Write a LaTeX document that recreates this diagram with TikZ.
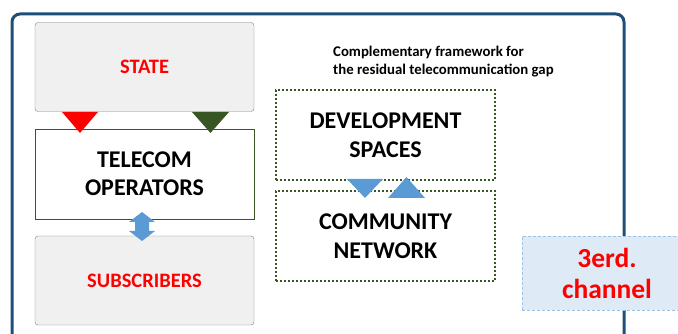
\documentclass[tikz,border=0pt]{standalone}
\usepackage{fontspec}
\setmainfont{Carlito}
\usetikzlibrary{positioning}

\definecolor{framecol}{HTML}{1F4E79}
\definecolor{boxgray}{HTML}{F0F0F0}
\definecolor{edgegray}{HTML}{7F7F7F}
\definecolor{darkgreen}{HTML}{375623}
\definecolor{arrowblue}{HTML}{5B9BD5}
\definecolor{chanfill}{HTML}{DEEBF7}
\definecolor{chanedge}{HTML}{9DC3E6}

\tikzset{
    graybox/.style={draw=edgegray, fill=boxgray, rounded corners=3pt, minimum width=219pt, minimum height=89pt, font=\fontsize{20.5}{24}\selectfont\bfseries, text=red},
    opbox/.style={draw=darkgreen, fill=white, minimum width=219pt, minimum height=90pt, align=center, font=\fontsize{24}{28}\selectfont\bfseries},
    dotbox/.style={draw=darkgreen, dash pattern=on 2pt off 2pt, line width=2pt, minimum width=219pt, minimum height=90pt, align=center, font=\fontsize{24}{29}\selectfont\bfseries},
}

\begin{document}
\begin{tikzpicture}[x=1pt, y=-1pt]
        \useasboundingbox (0,0) rectangle (678,334);
        \clip (0,0) rectangle (678,334);

        % outer frame
        \draw[framecol, line width=3pt, rounded corners=8pt] (12,345) -- (12,14) -- (624,14) -- (624,345);

        \node[graybox] (state) at (144.5,67) {STATE};
        \node[opbox] (operators) at (144.5,174) {TELECOM\\OPERATORS};
        \node[graybox] (subscribers) at (144.5,280.5) {SUBSCRIBERS};

        \node[dotbox] (devspaces) at (385.5,135) {DEVELOPMENT\\SPACES};
        \node[dotbox] (community) at (385.5,236) {COMMUNITY\\NETWORK};

        \node[align=left, anchor=north west, inner sep=0pt, font=\fontsize{14.8}{18}\selectfont\bfseries] (note) at (333,46)
            {Complementary framework for\\the residual telecommunication gap};

        \node[draw=chanedge, densely dashed, fill=chanfill, minimum width=170pt, minimum height=74pt, align=center, text=red, font=\fontsize{27.5}{31}\selectfont\bfseries] (channel) at (607,273) {3erd.\\channel};

        % triangles
        \fill[red] (62,112) -- (98,112) -- (80,133) -- cycle;
        \fill[darkgreen] (192,112) -- (229,112) -- (210.5,133) -- cycle;
        \fill[arrowblue] (347,179) -- (383,179) -- (365,198) -- cycle;
        \fill[arrowblue] (388,198) -- (425,198) -- (406.5,177) -- cycle;

        % double arrow
        \fill[arrowblue] (142,212) -- (155,222) -- (149,222) -- (149,231) -- (155,231) -- (142,241)
            -- (129,231) -- (135,231) -- (135,222) -- (129,222) -- cycle;

    \end{tikzpicture}
\end{document}
